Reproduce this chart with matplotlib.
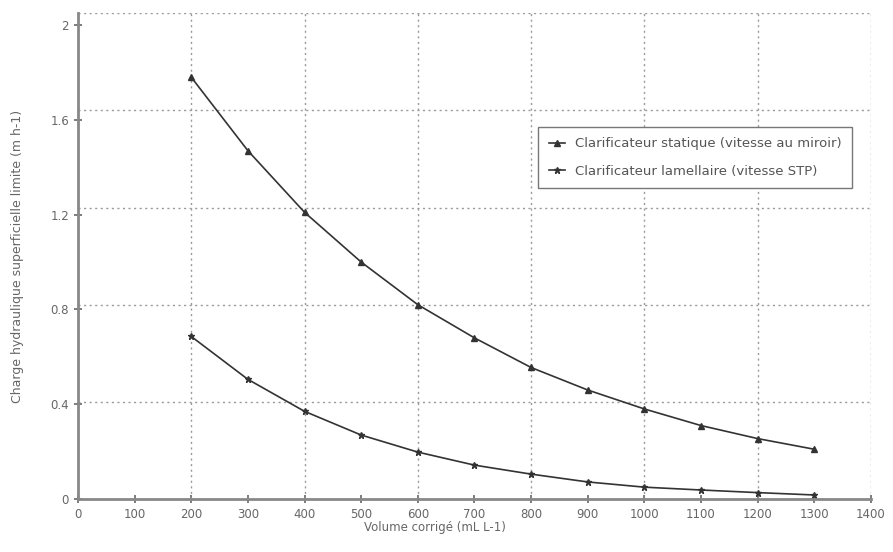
import numpy as np
import matplotlib.pyplot as plt

# volumes (mL/L) and the two limit loads (m/h)
volume = [200, 300, 400, 500, 600, 700, 800, 900, 1000, 1100, 1200, 1300]
statique = [1.78, 1.47, 1.21, 1.00, 0.82, 0.68, 0.555, 0.46, 0.38, 0.31, 0.255, 0.21]
lamellaire = [0.686, 0.505, 0.37, 0.27, 0.198, 0.143, 0.105, 0.072, 0.05, 0.038, 0.027, 0.017]

x_ticks = list(range(0, 1500, 100))
y_ticks = [0, 0.4, 0.8, 1.2, 1.6, 2]
y_tick_labels = ["0", "0.4", "0.8", "1.2", "1.6", "2"]

grey = "#666666"

fig = plt.figure(figsize=(8.93, 5.52), dpi=100)
ax = fig.add_axes([0.0873, 0.096, 0.888, 0.880])

ax.plot(volume, statique, color="#333333", lw=1.2, marker="^", ms=4,
        label="Clarificateur statique (vitesse au miroir)")
ax.plot(volume, lamellaire, color="#333333", lw=1.2, marker="*", ms=5,
        label="Clarificateur lamellaire (vitesse STP)")

ax.set_xlim(0, 1400)
ax.set_ylim(0, 2.05)
ax.set_xticks(x_ticks)
ax.set_yticks(y_ticks)
ax.set_yticklabels(y_tick_labels)

# grid: every 200 on x, five equal bands on y (as in the original)
ax.xaxis.remove_overlapping_locs = False
ax.yaxis.remove_overlapping_locs = False
ax.set_xticks(range(200, 1401, 200), minor=True)
ax.set_yticks(np.linspace(0, 2.05, 6)[1:], minor=True)
ax.tick_params(which="minor", length=0)
ax.grid(True, which="minor", linestyle=(0, (1.5, 2.5)), color="#999999", lw=1)
ax.grid(False, which="major")

ax.tick_params(which="major", direction="inout", length=6, width=1.2,
               color=grey, labelcolor=grey, labelsize=8.5)
for side in ["top", "right"]:
    ax.spines[side].set_visible(False)
for side in ["left", "bottom"]:
    ax.spines[side].set_color("#888888")
    ax.spines[side].set_linewidth(2)

ax.set_xlabel("Volume corrigé (mL L-1)", color=grey, fontsize=8.5)
ax.xaxis.set_label_coords(0.45, -0.045)
ax.set_ylabel("Charge hydraulique superficielle limite (m h-1)", color=grey, fontsize=9)
ax.yaxis.set_label_coords(-0.068, 0.5)

leg = ax.legend(loc="upper right", bbox_to_anchor=(0.985, 0.78), fontsize=9.5,
                fancybox=False, edgecolor="#777777", framealpha=1,
                handlelength=1.2, labelspacing=1.1, borderpad=0.8)
for t in leg.get_texts():
    t.set_color("#555555")

fig.savefig("out.png", dpi=100)
